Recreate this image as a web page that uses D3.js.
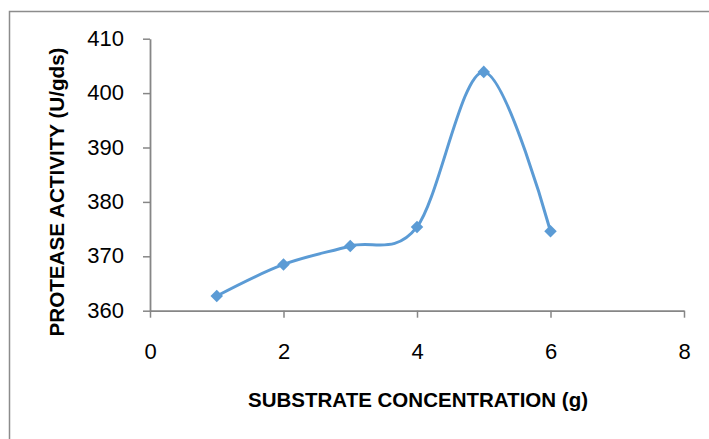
<!DOCTYPE html>
<html><head><meta charset="utf-8">
<script src="https://cdn.jsdelivr.net/npm/d3@7"></script>
<style>body{margin:0;background:#fff}svg{display:block}</style>
</head><body>
<svg id="c" width="709" height="439"></svg>
<script>
const xValues = [1, 2, 3, 4, 5, 6];
const activity = [362.7, 368.5, 371.9, 375.4, 403.9, 374.6];
const xTicks = [0, 2, 4, 6, 8];
const yTicks = [360, 370, 380, 390, 400, 410];
const xTitle = "SUBSTRATE CONCENTRATION (g)";
const yTitle = "PROTEASE ACTIVITY (U/gds)";

const svg = d3.select("#c");
svg.append("rect").attr("width",709).attr("height",439).attr("fill","#fff");
// border (top and left visible)
svg.append("path").attr("d","M9.5,439 V11.5 H709").attr("fill","none").attr("stroke","#8c8c8c").attr("stroke-width",1.5);

const x = d3.scaleLinear().domain([0,8]).range([150,684]);
const y = d3.scaleLinear().domain([360,410]).range([310.7,38.7]);
const axisColor = "#868686";
const tickFont = "'Liberation Sans', Arial, sans-serif";

const gx = svg.append("g").attr("transform",`translate(0,${y(360)})`)
  .call(d3.axisBottom(x).tickValues(xTicks).tickSize(7).tickSizeOuter(0).tickPadding(26));
const gy = svg.append("g").attr("transform",`translate(${x(0)},0)`)
  .call(d3.axisLeft(y).tickValues(yTicks).tickSize(7).tickSizeOuter(0).tickPadding(19));
[gx,gy].forEach(g=>{
  g.select(".domain").attr("stroke",axisColor).attr("stroke-width",1.8);
  g.selectAll(".tick line").attr("stroke",axisColor).attr("stroke-width",1.5);
  g.selectAll(".tick text").attr("fill","#000").style("font-family",tickFont).style("font-size","22px");
});
gy.selectAll(".tick text").attr("dy","0.30em");

const data = xValues.map((v,i)=>({x:v,y:activity[i]}));
const line = d3.line().x(d=>x(d.x)).y(d=>y(d.y)).curve(d3.curveCardinal.tension(0));
svg.append("path").datum(data).attr("d",line).attr("fill","none")
  .attr("stroke","#5B9BD5").attr("stroke-width",3).attr("stroke-linejoin","round");

svg.selectAll(".m").data(data).enter().append("path")
  .attr("d",d3.symbol().type(d3.symbolDiamond2).size(100))
  .attr("transform",d=>`translate(${x(d.x)},${y(d.y)})`)
  .attr("fill","#5B9BD5");

const titleFont = "'Liberation Sans Narrow', 'Liberation Sans', Arial, sans-serif";
svg.append("text").attr("x",418).attr("y",407).attr("text-anchor","middle")
  .style("font-family",titleFont).style("font-weight","bold").style("font-size","21px")
  .attr("textLength",340).attr("lengthAdjust","spacingAndGlyphs").text(xTitle);
svg.append("text").attr("transform","translate(64,192) rotate(-90)").attr("text-anchor","middle")
  .style("font-family",titleFont).style("font-weight","bold").style("font-size","21px")
  .attr("textLength",289).attr("lengthAdjust","spacingAndGlyphs").text(yTitle);
</script>
</body></html>
